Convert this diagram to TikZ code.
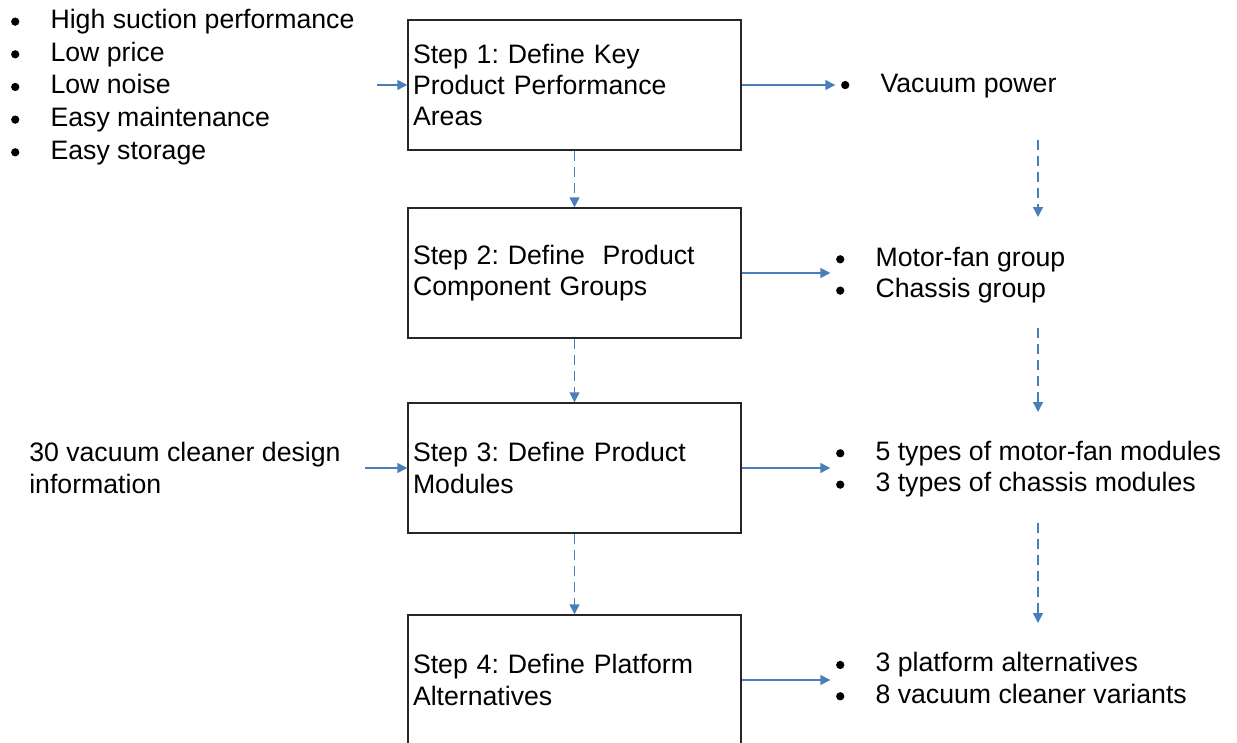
\documentclass[tikz,border=0pt]{standalone}
\usepackage{fontspec}
\setmainfont{Liberation Sans}
\usetikzlibrary{arrows.meta}
\definecolor{flowblue}{RGB}{74,126,187}
% round list bullet, centred on the x-height
\newsavebox\bulletbox
\sbox\bulletbox{\tikz\fill (0,0) circle[radius=3.1pt];}
\newcommand{\blt}{\makebox[30pt][l]{\hspace{0.4pt}\raisebox{2.1pt}{\usebox\bulletbox}}}
\begin{document}
\begin{tikzpicture}[x=0.75pt,y=-0.75pt,
  font=\fontsize{20}{24.5}\selectfont\frenchspacing,
  stepbox/.style={draw=black!85, line width=1.1pt, minimum width=249.75pt,
    minimum height=97.5pt, text width=242.25pt, inner xsep=3.75pt,
    inner ysep=0pt, align=left, font=\fontsize{20}{23.6}\selectfont\frenchspacing},
  listtext/.style={inner sep=0pt, align=left},
  outlist/.style={listtext, font=\fontsize{20}{23.5}\selectfont\frenchspacing},
  flow/.style={draw=flowblue, line width=1.1pt, -{Triangle[length=7.5pt,width=7.5pt]}},
  dflow/.style={flow, dash pattern=on 7.5pt off 4.5pt},
  toList/.style={flow, shorten >=3.75pt}]
\useasboundingbox (0,0) rectangle (1237,742);
\clip (0,0) rectangle (1237,742);

% process steps
\node[stepbox] (s1) at (574.5,85)  {Step 1: Define Key\\Product Performance\\Areas};
\node[stepbox] (s2) at (574.5,273) {Step 2: Define\ \ Product\\Component Groups};
\node[stepbox] (s3) at (574.5,468) {Step 3: Define Product\\Modules};
\node[stepbox] (s4) at (574.5,680) {Step 4: Define Platform\\Alternatives};

% inputs
\node[listtext, anchor=west] (needs) at (10.3,87)
  {\blt High suction performance\\\blt Low price\\\blt Low noise\\\blt Easy maintenance\\\blt Easy storage};
\node[listtext, anchor=west] (data) at (29,468)
  {30 vacuum cleaner design\\information};

% outputs
\node[outlist, anchor=base west] (vp) at (840.3,92) {\blt Vacuum power};
\node[outlist, anchor=west] (grp) at (835.3,275)
  {\blt Motor-fan group\\\blt Chassis group};
\node[outlist, anchor=west] (mods) at (835.3,469)
  {\blt 5 types of motor-fan modules\\\blt 3 types of chassis modules};
\node[outlist, anchor=west] (plat) at (835.3,678)
  {\blt 3 platform alternatives\\\blt 8 vacuum cleaner variants};

% free ends of connectors
\coordinate (needsEnd) at (377,85);
\coordinate (dataEnd) at (365,468);
\coordinate (r1a) at (1038,140);
\coordinate (r1b) at (1038,217);
\coordinate (r2a) at (1038,328);
\coordinate (r2b) at (1038,412);
\coordinate (r3a) at (1038,523);
\coordinate (r3b) at (1038,623);

% inputs into steps
\draw[flow] (needsEnd) -- (s1.west);
\draw[flow] (dataEnd) -- (s3.west);

% step to step
\draw[dflow] (s1.south) -- (s2.north);
\draw[dflow] (s2.south) -- (s3.north);
\draw[dflow] (s3.south) -- (s4.north);

% steps to outputs
\draw[toList] (s1.east) -- (s1.east -| vp.west);
\draw[toList] (s2.east) -- (s2.east -| grp.west);
\draw[toList] (s3.east) -- (s3.east -| mods.west);
\draw[toList] (s4.east) -- (s4.east -| plat.west);

% output refinement
\draw[dflow] (r1a) -- (r1b);
\draw[dflow] (r2a) -- (r2b);
\draw[dflow] (r3a) -- (r3b);
\end{tikzpicture}
\end{document}
